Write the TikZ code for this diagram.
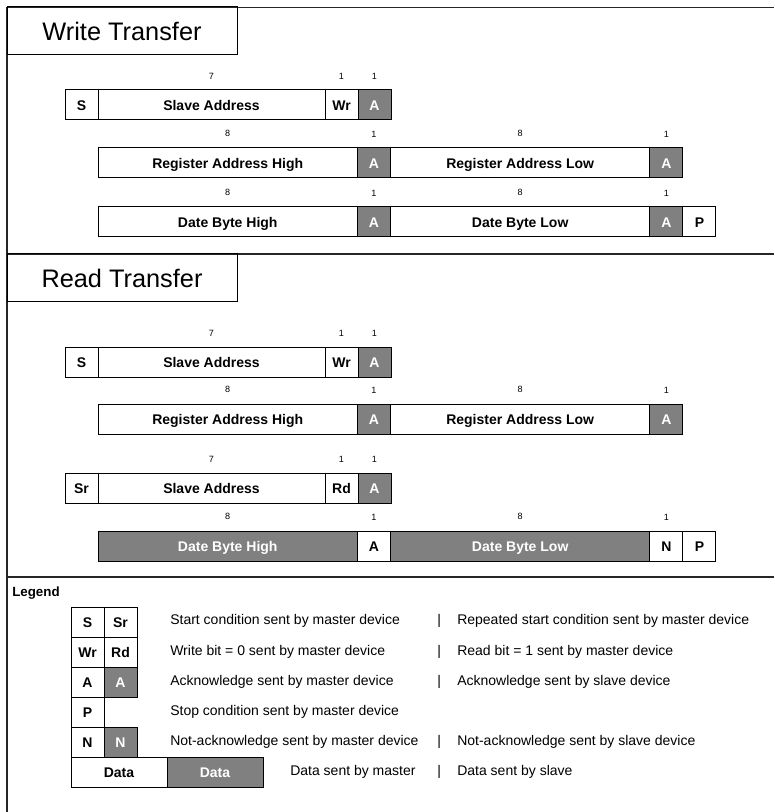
\documentclass[tikz,border=0pt]{standalone}
\usepackage{fontspec}
\setmainfont{Liberation Sans}
\usetikzlibrary{positioning}
\colorlet{ackgray}{black!50}
\tikzset{field/.style={draw,line width=0.75pt,minimum height=22.5pt,inner sep=0pt,outer sep=0pt,text height=7.6pt,text depth=0pt,font=\fontsize{10.5}{12}\selectfont\bfseries}}
\tikzset{bit/.style={field,minimum width=24.75pt}}
\tikzset{addr/.style={field,minimum width=170.25pt}}
\tikzset{byte/.style={field,minimum width=194.6pt}}
\tikzset{fromslave/.style={fill=ackgray,text=white}}
\tikzset{num/.style={inner sep=0pt,font=\fontsize{6.8}{8}\selectfont}}
\tikzset{txt/.style={anchor=west,inner sep=0pt,font=\fontsize{10.5}{12}\selectfont}}
\tikzset{title/.style={draw,line width=0.75pt,minimum width=172.5pt,minimum height=36pt,outer sep=0pt,font=\fontsize{19}{22}\selectfont}}
\tikzset{frame/.style={line width=1pt,black!85}}
\begin{document}
\begin{tikzpicture}[x=0.75pt,y=-0.75pt,node distance=0pt]
        \fill[white] (0,0) rectangle (774,812);
        \useasboundingbox (0,0) rectangle (774,812);
        % frame
        \draw[frame] (7,812) -- (7,7.5) -- (774,7.5);
        \draw[frame] (7,254) -- (774,254) (7,577) -- (774,577);
        \node(wt)[title] at (122,31){Write Transfer};
        \node(rt)[title] at (122,278){Read Transfer};
        % write transfer
        \node(wS)[bit] at (81.5,105){S};
        \node(wSA)[addr,right=of wS]{Slave Address};
        \node(wWr)[bit,right=of wSA]{Wr};
        \node(wA1)[bit,fromslave,right=of wWr]{A};
        \node(wRAH)[byte,anchor=west] at (98,163){Register Address High};
        \node(wA2)[bit,fromslave,right=of wRAH]{A};
        \node(wRAL)[byte,right=of wA2]{Register Address Low};
        \node(wA3)[bit,fromslave,right=of wRAL]{A};
        \node(wDBH)[byte,anchor=west] at (98,222){Date Byte High};
        \node(wA4)[bit,fromslave,right=of wDBH]{A};
        \node(wDBL)[byte,right=of wA4]{Date Byte Low};
        \node(wA5)[bit,fromslave,right=of wDBL]{A};
        \node(wP)[bit,right=of wA5]{P};
        \node(wn1)[num,above=8pt of wSA]{7};
        \node(wn2)[num,above=8pt of wWr]{1};
        \node(wn3)[num,above=8pt of wA1]{1};
        \node(wn4)[num,above=8pt of wRAH]{8};
        \node(wn5)[num,above=8pt of wA2]{1};
        \node(wn6)[num,above=8pt of wRAL]{8};
        \node(wn7)[num,above=8pt of wA3]{1};
        \node(wn8)[num,above=8pt of wDBH]{8};
        \node(wn9)[num,above=8pt of wA4]{1};
        \node(wn10)[num,above=8pt of wDBL]{8};
        \node(wn11)[num,above=8pt of wA5]{1};
        % read transfer
        \node(rS)[bit] at (81.5,362){S};
        \node(rSA)[addr,right=of rS]{Slave Address};
        \node(rWr)[bit,right=of rSA]{Wr};
        \node(rA1)[bit,fromslave,right=of rWr]{A};
        \node(rRAH)[byte,anchor=west] at (98,419){Register Address High};
        \node(rA2)[bit,fromslave,right=of rRAH]{A};
        \node(rRAL)[byte,right=of rA2]{Register Address Low};
        \node(rA3)[bit,fromslave,right=of rRAL]{A};
        \node(rSr)[bit] at (81.5,488.5){Sr};
        \node(rSA2)[addr,right=of rSr]{Slave Address};
        \node(rRd)[bit,right=of rSA2]{Rd};
        \node(rA4)[bit,fromslave,right=of rRd]{A};
        \node(rDBH)[byte,fromslave,anchor=west] at (98,546){Date Byte High};
        \node(rA5)[bit,right=of rDBH]{A};
        \node(rDBL)[byte,fromslave,right=of rA5]{Date Byte Low};
        \node(rN)[bit,right=of rDBL]{N};
        \node(rP)[bit,right=of rN]{P};
        \node(rn1)[num,above=8pt of rSA]{7};
        \node(rn2)[num,above=8pt of rWr]{1};
        \node(rn3)[num,above=8pt of rA1]{1};
        \node(rn4)[num,above=8pt of rRAH]{8};
        \node(rn5)[num,above=8pt of rA2]{1};
        \node(rn6)[num,above=8pt of rRAL]{8};
        \node(rn7)[num,above=8pt of rA3]{1};
        \node(rn8)[num,above=8pt of rSA2]{7};
        \node(rn9)[num,above=8pt of rRd]{1};
        \node(rn10)[num,above=8pt of rA4]{1};
        \node(rn11)[num,above=8pt of rDBH]{8};
        \node(rn12)[num,above=8pt of rA5]{1};
        \node(rn13)[num,above=8pt of rDBL]{8};
        \node(rn14)[num,above=8pt of rN]{1};
        % legend
        \node(lg)[anchor=west,inner sep=0pt,font=\fontsize{10}{12}\selectfont\bfseries] at (12,593){Legend};
        \node(lS)[bit] at (87.5,622){S};
        \node(lSr)[bit,right=of lS]{Sr};
        \node(lWr)[bit,below=of lS]{Wr};
        \node(lRd)[bit,right=of lWr]{Rd};
        \node(lA)[bit,below=of lWr]{A};
        \node(lA2)[bit,fromslave,right=of lA]{A};
        \node(lP)[bit,below=of lA]{P};
        \node(lN)[bit,below=of lP]{N};
        \node(lN2)[bit,fromslave,right=of lN]{N};
        \node(lD)[field,minimum width=72pt,anchor=north west] at (lN.south west){Data};
        \node(lD2)[field,fromslave,minimum width=72pt,right=of lD]{Data};
        \node(t1)[txt] at (170,621){Start condition sent by master device};
        \node(t2)[txt] at (170,652){Write bit = 0 sent by master device};
        \node(t3)[txt] at (170,682){Acknowledge sent by master device};
        \node(t4)[txt] at (170,712){Stop condition sent by master device};
        \node(t5)[txt] at (170,742){Not-acknowledge sent by master device};
        \begin{scope}
          \clip (280,757) rectangle (415,787);
          \node(t6)[txt] at (290,772){Data sent by master};
        \end{scope}
        \node(s1)[txt] at (437,621){|};
        \node(s2)[txt] at (437,652){|};
        \node(s3)[txt] at (437,682){|};
        \node(s5)[txt] at (437,742){|};
        \node(s6)[txt] at (437,772){|};
        \node(u1)[txt] at (457,621){Repeated start condition sent by master device};
        \node(u2)[txt] at (457,652){Read bit = 1 sent by master device};
        \node(u3)[txt] at (457,682){Acknowledge sent by slave device};
        \node(u5)[txt] at (457,742){Not-acknowledge sent by slave device};
        \node(u6)[txt] at (457,772){Data sent by slave};
      \end{tikzpicture}
\end{document}
